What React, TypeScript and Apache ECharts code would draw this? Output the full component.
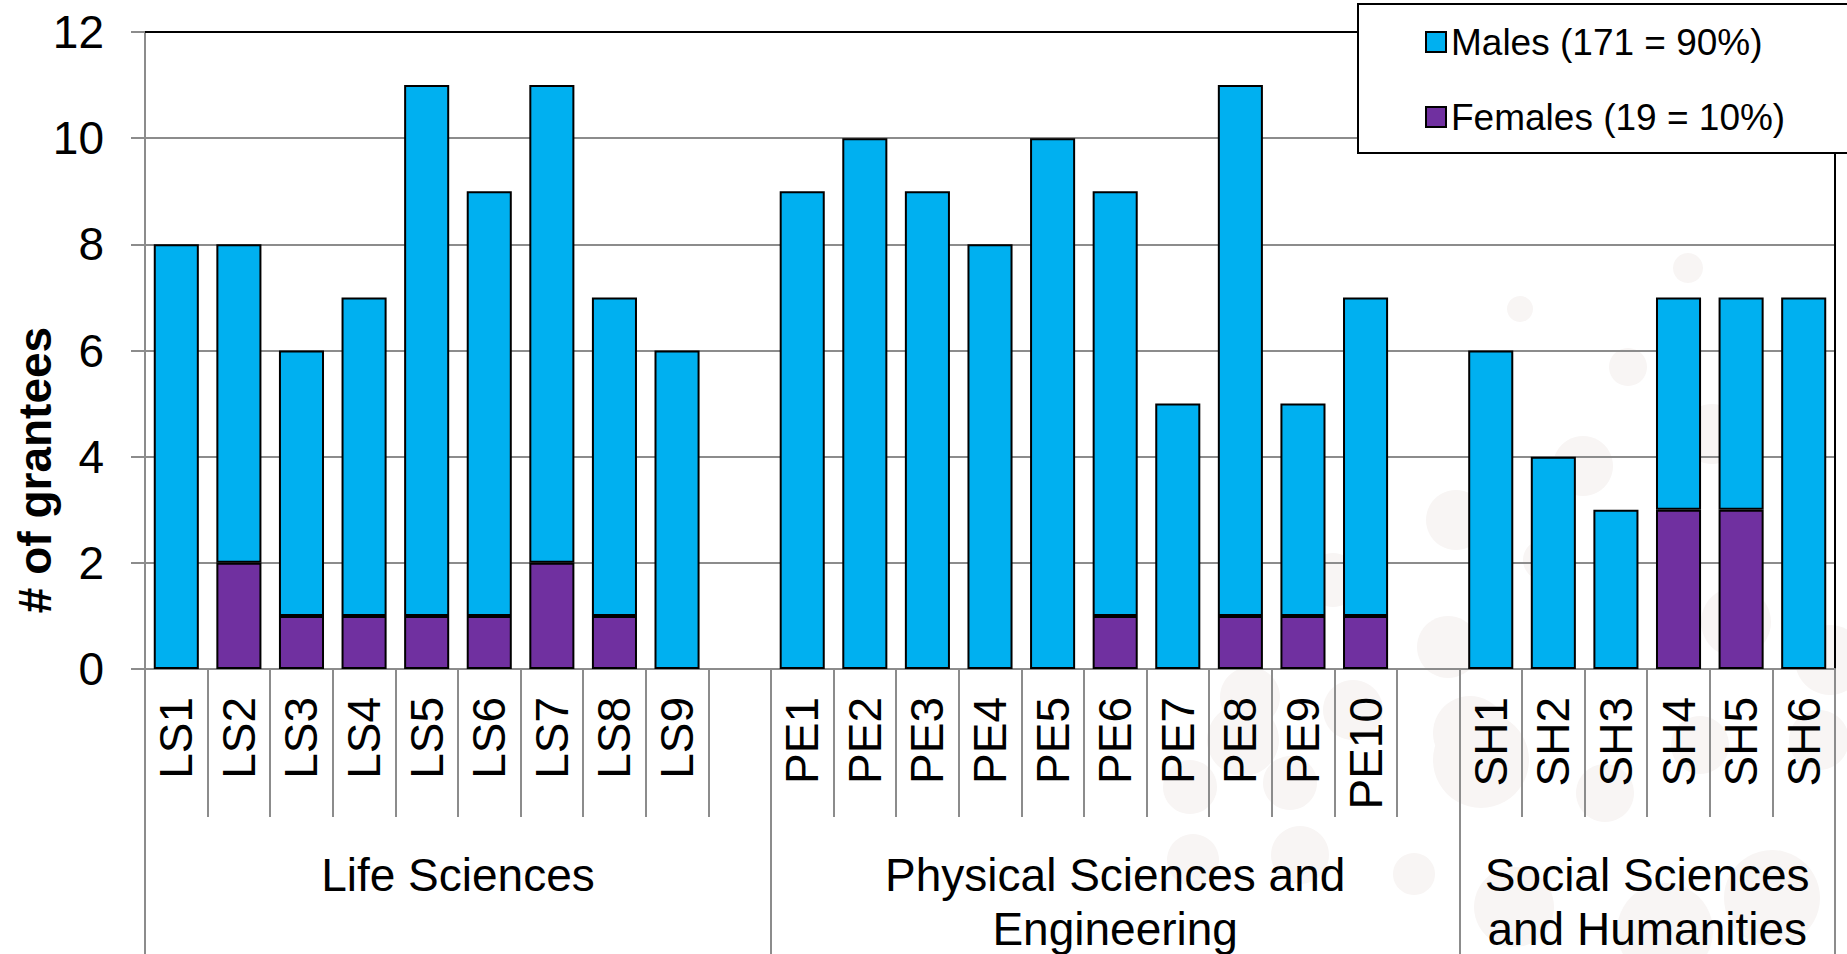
import React, { useEffect, useRef } from 'react';
import * as echarts from 'echarts';

// ---------- data ----------
const categories = [
  'LS1', 'LS2', 'LS3', 'LS4', 'LS5', 'LS6', 'LS7', 'LS8', 'LS9', '',
  'PE1', 'PE2', 'PE3', 'PE4', 'PE5', 'PE6', 'PE7', 'PE8', 'PE9', 'PE10', '',
  'SH1', 'SH2', 'SH3', 'SH4', 'SH5', 'SH6',
];
const males: (number | null)[] = [
  8, 6, 5, 6, 10, 8, 9, 6, 6, null,
  9, 10, 9, 8, 10, 8, 5, 10, 4, 6, null,
  6, 4, 3, 4, 4, 7,
];
const females: (number | null)[] = [
  0, 2, 1, 1, 1, 1, 2, 1, 0, null,
  0, 0, 0, 0, 0, 1, 0, 1, 1, 1, null,
  0, 0, 0, 3, 3, 0,
];
const groupNames = ['Life Sciences', 'Physical Sciences and\nEngineering', 'Social Sciences\nand Humanities'];
const groupSlots = [10, 11, 6];
const legendNames = ['Males (171 = 90%)', 'Females (19 = 10%)'];
const yMin = 0;
const yMax = 12;
const yStep = 2;
const yTitle = '# of grantees';

// ---------- decoration (faint background circles) ----------
const bgCircles: [number, number, number][] = [
  [1520, 309, 13], [1688, 268, 15], [1628, 367, 19], [1583, 466, 30], [1456, 520, 30],
  [1712, 434, 30], [1736, 622, 35], [1448, 647, 31], [1250, 697, 30], [1353, 710, 30],
  [1470, 733, 37], [1190, 787, 27], [1290, 783, 27], [1333, 580, 27], [1543, 560, 20],
  [1481, 760, 48], [1514, 907, 40], [1665, 931, 48], [1772, 898, 48], [1605, 793, 29],
  [1700, 745, 29], [1414, 874, 21], [1243, 740, 36], [1300, 855, 29], [1193, 860, 26],
  [1819, 740, 30], [1830, 660, 35],
];

const FONT = '"Liberation Sans", Arial, Helvetica, sans-serif';
const GREY = '#8c8c8c';

export default function App() {
  const ref = useRef<HTMLDivElement>(null);

  useEffect(() => {
    document.body.style.margin = '0';
    const chart = echarts.init(ref.current!, null, { renderer: 'svg' });

    // group axis built on half-slot points
    const totalSlots = categories.length;
    const halfData: string[] = new Array(totalSlots * 2 + 1).fill('');
    const boundaries = new Set<number>([0]);
    const centers = new Set<number>();
    let acc = 0;
    groupSlots.forEach((n, i) => {
      const start = acc * 2;
      acc += n;
      const end = acc * 2;
      boundaries.add(end);
      const c = (start + end) / 2;
      centers.add(c);
      halfData[c] = groupNames[i];
    });

    const toBar = (v: number | null) => (v === null || v === 0 ? '-' : v);

    const option: any = {
      animation: false,
      backgroundColor: '#ffffff',
      textStyle: { fontFamily: FONT },
      grid: {
        left: 145,
        right: 12,
        top: 32,
        bottom: 285,
        containLabel: false,
        outerBoundsMode: 'none',
      },
      legend: {
        data: legendNames,
        orient: 'vertical',
        left: 1358,
        top: 4,
        padding: [18, 120, 16, 67],
        itemGap: 35,
        itemWidth: 20,
        itemHeight: 20,
        icon: 'rect',
        backgroundColor: '#ffffff',
        borderColor: '#000000',
        borderWidth: 2,
        borderRadius: 0,
        selectedMode: false,
        textStyle: { fontSize: 37, color: '#000', fontFamily: FONT, lineHeight: 40 },
      },
      xAxis: [
        {
          type: 'category',
          data: categories,
          position: 'bottom',
          boundaryGap: true,
          axisLine: { show: true, lineStyle: { color: GREY, width: 2 } },
          axisTick: { show: true, interval: 0, length: 148, lineStyle: { color: GREY, width: 2 } },
          axisLabel: {
            interval: 0,
            rotate: 90,
            margin: 28,
            fontSize: 46,
            color: '#000',
            fontFamily: FONT,
          },
          splitLine: { show: false },
        },
        {
          type: 'category',
          data: halfData,
          position: 'bottom',
          boundaryGap: false,
          axisLine: { show: false },
          axisTick: {
            show: true,
            interval: (i: number) => boundaries.has(i),
            length: 285,
            lineStyle: { color: GREY, width: 2 },
          },
          axisLabel: {
            interval: (i: number) => centers.has(i),
            margin: 179,
            fontSize: 46,
            lineHeight: 54,
            color: '#000',
            fontFamily: FONT,
            align: 'center',
          },
          splitLine: { show: false },
        },
        {
          type: 'category',
          data: categories,
          position: 'top',
          axisLine: { show: true, lineStyle: { color: '#000', width: 2 } },
          axisTick: { show: false },
          axisLabel: { show: false },
          splitLine: { show: false },
        },
      ],
      yAxis: [
        {
          type: 'value',
          min: yMin,
          max: yMax,
          interval: yStep,
          position: 'left',
          axisLine: { show: true, lineStyle: { color: GREY, width: 2 } },
          axisTick: { show: true, inside: false, length: 14, lineStyle: { color: GREY, width: 2 } },
          axisLabel: { margin: 41, fontSize: 46, color: '#000', fontFamily: FONT },
          splitLine: { show: true, lineStyle: { color: GREY, width: 2 } },
        },
        {
          type: 'value',
          min: yMin,
          max: yMax,
          interval: yStep,
          position: 'right',
          axisLine: { show: true, lineStyle: { color: '#000', width: 2 } },
          axisTick: { show: false },
          axisLabel: { show: false },
          splitLine: { show: false },
        },
      ],
      series: [
        {
          name: legendNames[1],
          type: 'bar',
          stack: 'total',
          xAxisIndex: 0,
          yAxisIndex: 0,
          barCategoryGap: '28%',
          data: females.map(toBar),
          itemStyle: { color: '#7030A0', borderColor: '#000', borderWidth: 2 },
        },
        {
          name: legendNames[0],
          type: 'bar',
          stack: 'total',
          xAxisIndex: 0,
          yAxisIndex: 0,
          barCategoryGap: '28%',
          data: males.map(toBar),
          itemStyle: { color: '#00B0F0', borderColor: '#000', borderWidth: 2 },
        },
      ],
      graphic: {
        elements: [
          ...bgCircles.map(([cx, cy, r]) => ({
            type: 'circle',
            z: -10,
            silent: true,
            shape: { cx, cy, r },
            style: { fill: '#F8F5F4' },
          })),
          {
            type: 'text',
            x: 35,
            y: 470,
            rotation: Math.PI / 2,
            z: 10,
            style: {
              text: yTitle,
              fontSize: 46,
              fontWeight: 'bold',
              fontFamily: FONT,
              fill: '#000',
              align: 'center',
              verticalAlign: 'middle',
            },
          },
        ],
      },
    };

    chart.setOption(option);
    return () => chart.dispose();
  }, []);

  return <div ref={ref} style={{ width: 1847, height: 954 }} />;
}
